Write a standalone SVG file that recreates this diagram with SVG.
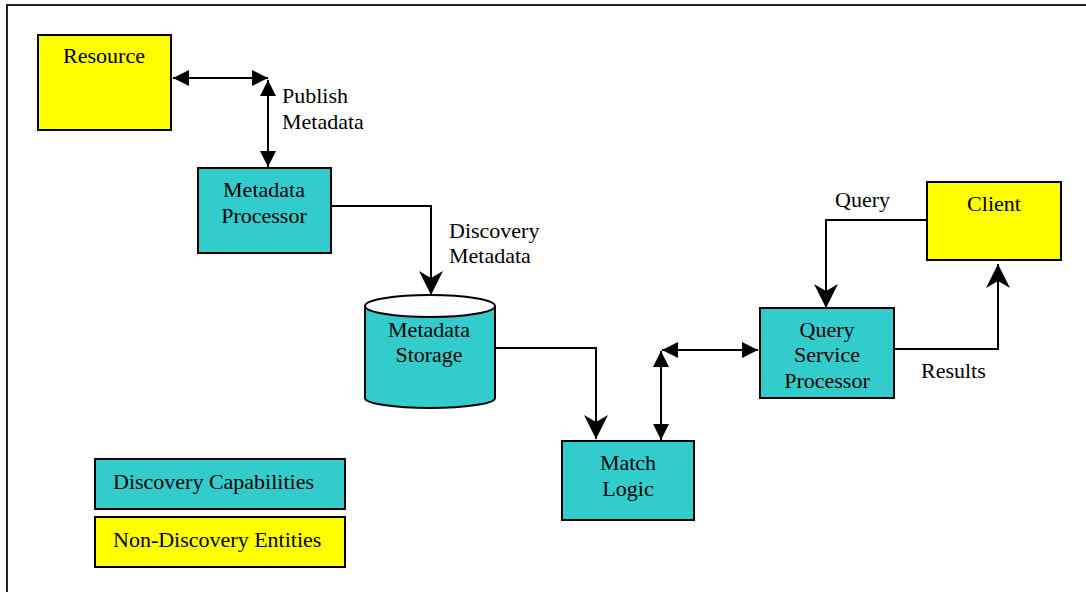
<svg xmlns="http://www.w3.org/2000/svg" width="1086" height="592" viewBox="0 0 1086 592">
  <style>
    text { font-family: "Liberation Serif", "DejaVu Serif", serif; font-size: 22px; fill: #000; }
    .c { text-anchor: middle; }
    .disc { fill: #33cccc; stroke: #000; stroke-width: 2; }
    .ext { fill: #ffff00; stroke: #000; stroke-width: 2; }
    .wire { fill: none; stroke: #000; stroke-width: 2; }
  </style>
  <defs>
    <marker id="tri" markerUnits="userSpaceOnUse" markerWidth="17" markerHeight="17" refX="16" refY="8" orient="auto-start-reverse">
      <path d="M0,0 L16,8 L0,16 z" fill="#000"/>
    </marker>
    <marker id="stealth" markerUnits="userSpaceOnUse" markerWidth="25" markerHeight="26" refX="24" refY="12" orient="auto">
      <path d="M0,0 L24,12 L0,24 L7,12 z" fill="#000"/>
    </marker>
  </defs>

  <rect width="1086" height="592" fill="#fff"/>
  <!-- page frame -->
  <path d="M7,592 V5 H1086" fill="none" stroke="#222" stroke-width="2"/>

  <g id="connectors">
    <path class="wire" d="M173,78 H268" marker-start="url(#tri)" marker-end="url(#tri)"/>
    <path class="wire" d="M268,80 V167" marker-start="url(#tri)" marker-end="url(#tri)"/>
    <path class="wire" d="M331,206 H431 V295" marker-end="url(#stealth)"/>
    <path class="wire" d="M495,348 H596 V439" marker-end="url(#stealth)"/>
    <path class="wire" d="M661,351 V440" marker-start="url(#tri)" marker-end="url(#tri)"/>
    <path class="wire" d="M662,350 H758" marker-start="url(#tri)" marker-end="url(#tri)"/>
    <path class="wire" d="M927,220 H826 V308" marker-end="url(#stealth)"/>
    <path class="wire" d="M884,349 H998 V264" marker-end="url(#stealth)"/>
    <text x="282" y="103">Publish</text>
    <text x="282" y="129">Metadata</text>
    <text x="449" y="238">Discovery</text>
    <text x="449" y="263">Metadata</text>
    <text x="835" y="207">Query</text>
    <text x="921" y="378">Results</text>
  </g>

  <g id="resource">
    <rect class="ext" x="38" y="35" width="133" height="95"/>
    <text class="c" x="104" y="63">Resource</text>
  </g>

  <g id="metadata-processor">
    <rect class="disc" x="198" y="168" width="133" height="85"/>
    <text class="c" x="264" y="197">Metadata</text>
    <text class="c" x="264" y="223">Processor</text>
  </g>

  <g id="metadata-storage">
    <path class="disc" d="M365,306 V398 A65,10 0 0 0 495,398 V306"/>
    <ellipse cx="430" cy="306" rx="65" ry="11" fill="#fff" stroke="#000" stroke-width="2"/>
    <text class="c" x="429" y="337">Metadata</text>
    <text class="c" x="429" y="362">Storage</text>
  </g>

  <g id="match-logic">
    <rect class="disc" x="562" y="441" width="132" height="79"/>
    <text class="c" x="628" y="470">Match</text>
    <text class="c" x="628" y="496">Logic</text>
  </g>

  <g id="query-service-processor">
    <rect class="disc" x="760" y="308" width="134" height="90"/>
    <text class="c" x="827" y="337">Query</text>
    <text class="c" x="827" y="362">Service</text>
    <text class="c" x="827" y="388">Processor</text>
  </g>

  <g id="client">
    <rect class="ext" x="927" y="182" width="134" height="78"/>
    <text class="c" x="994" y="211">Client</text>
  </g>

  <g id="legend-discovery">
    <rect class="disc" x="95" y="459" width="250" height="50"/>
    <text x="113" y="489">Discovery Capabilities</text>
  </g>

  <g id="legend-non-discovery">
    <rect class="ext" x="95" y="517" width="250" height="50"/>
    <text x="113" y="547">Non-Discovery Entities</text>
  </g>
</svg>
